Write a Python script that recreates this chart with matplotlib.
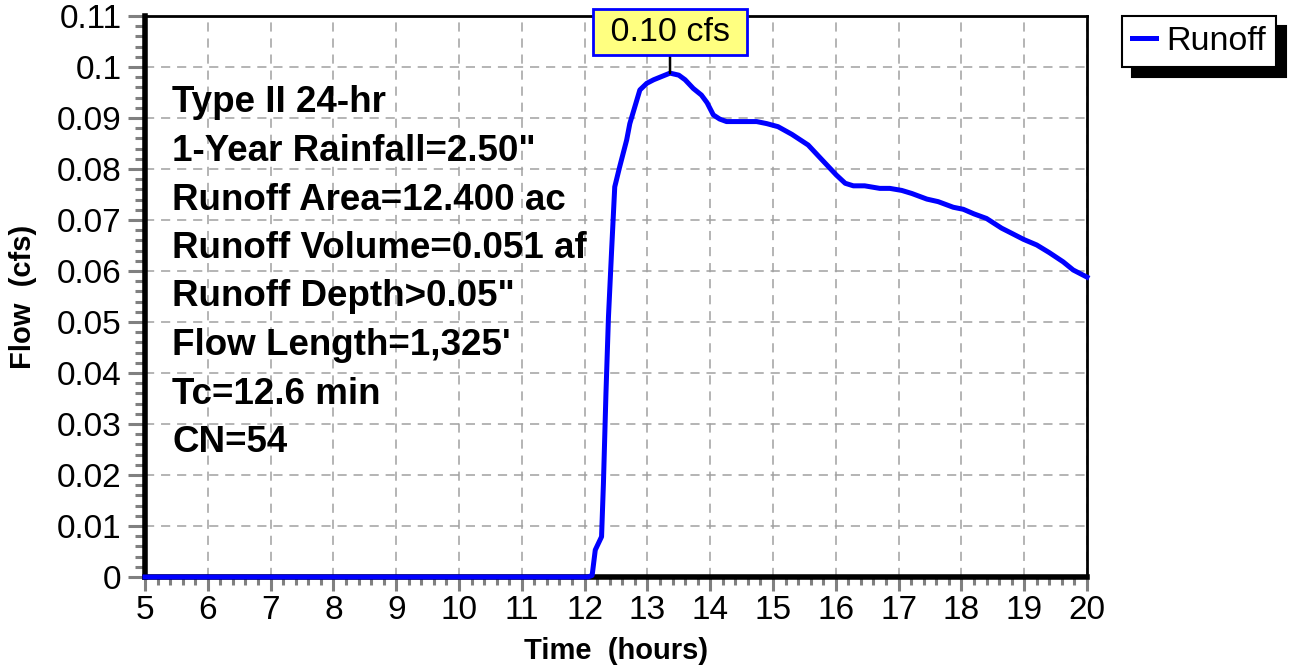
import matplotlib
matplotlib.use("Agg")
import matplotlib.pyplot as plt
from matplotlib.ticker import MultipleLocator

# ---- data ----
time_h = [5.0, 12.05, 12.12, 12.17, 12.27, 12.30, 12.34, 12.38, 12.43, 12.48, 12.56,
          12.67, 12.72, 12.88, 12.99, 13.10, 13.20, 13.36, 13.50, 13.60, 13.73, 13.86,
          13.95, 14.05, 14.15, 14.26, 14.50, 14.74, 14.90, 15.08, 15.30, 15.56, 15.75,
          16.01, 16.15, 16.28, 16.46, 16.70, 16.86, 17.05, 17.21, 17.45, 17.63, 17.87,
          18.03, 18.20, 18.40, 18.64, 18.80, 18.99, 19.20, 19.40, 19.62, 19.78, 20.0]
flow_cfs = [0.0, 0.0, 0.0003, 0.0053, 0.0079, 0.0184, 0.036, 0.051, 0.064, 0.0765, 0.0805,
            0.0857, 0.0889, 0.0955, 0.0968, 0.0975, 0.0980, 0.0988, 0.0984, 0.0975, 0.0958, 0.0945,
            0.0930, 0.0906, 0.0898, 0.0893, 0.0893, 0.0893, 0.0889, 0.0883, 0.0868, 0.0847, 0.0822,
            0.0788, 0.0772, 0.0767, 0.0767, 0.0762, 0.0762, 0.0758, 0.0752, 0.0741, 0.0736, 0.0725,
            0.0721, 0.0712, 0.0703, 0.0684, 0.0674, 0.0662, 0.0651, 0.0636, 0.0618, 0.0602, 0.0588]
peak_time = 13.36
peak_flow = 0.0988
peak_label = "0.10 cfs"
info_lines = ["Type II 24-hr", "1-Year Rainfall=2.50\"", "Runoff Area=12.400 ac",
              "Runoff Volume=0.051 af", "Runoff Depth>0.05\"", "Flow Length=1,325'",
              "Tc=12.6 min", "CN=54"]
x_ticks = list(range(5, 21))
y_ticks = [0, 0.01, 0.02, 0.03, 0.04, 0.05, 0.06, 0.07, 0.08, 0.09, 0.1, 0.11]
y_tick_labels = ["0", "0.01", "0.02", "0.03", "0.04", "0.05", "0.06", "0.07", "0.08",
                 "0.09", "0.1", "0.11"]
series_name = "Runoff"

plt.rcParams['font.family'] = ['Liberation Sans', 'DejaVu Sans']

W, H = 1291, 668
fig = plt.figure(figsize=(W / 100, H / 100), dpi=100)
L, R, T, B = 145, 1087, 16, 577
ax = fig.add_axes([L / W, 1 - B / H, (R - L) / W, (B - T) / H])

ax.plot(time_h, flow_cfs, color="#0000ff", lw=3.6, solid_joinstyle="round",
        label=series_name, zorder=5, clip_on=False)

ax.set_xlim(5, 20)
ax.set_ylim(0, 0.11)
ax.set_xticks(x_ticks)
ax.set_xticklabels([str(v) for v in x_ticks])
ax.set_yticks(y_ticks)
ax.set_yticklabels(y_tick_labels)
ax.xaxis.set_minor_locator(MultipleLocator(0.2))
ax.yaxis.set_minor_locator(MultipleLocator(0.002))

ax.grid(True, which="major", color="#a0a0a0", linestyle=(0, (6, 4.5)), lw=1.1)
ax.set_axisbelow(True)

ax.tick_params(axis="both", which="major", direction="out", width=2.2,
               color="#808080", labelsize=24)
ax.tick_params(axis="y", which="major", length=12, pad=5)
ax.tick_params(axis="x", which="major", length=10, pad=3)
ax.tick_params(axis="y", which="minor", direction="out", length=7, width=2.2,
               color="#808080")
ax.tick_params(axis="x", which="minor", direction="out", length=6, width=2.2,
               color="#808080")

for s in ["left", "bottom"]:
    ax.spines[s].set_linewidth(4)
for s in ["top", "right"]:
    ax.spines[s].set_linewidth(2)
for s in ax.spines.values():
    s.set_color("black")

ax.set_xlabel("Time  (hours)", fontsize=21, fontweight="bold", labelpad=8)
ax.set_ylabel("Flow  (cfs)", fontsize=21, fontweight="bold", labelpad=14)

# info block
x0 = (172 - L) / (R - L)
for i, line in enumerate(info_lines):
    ypx = 103 + 48.5 * i
    ax.text(x0, (B - ypx) / (B - T), line, transform=ax.transAxes, fontsize=26.5,
            fontweight="bold", ha="left", va="center", zorder=6)

# peak annotation
ax.annotate(f" {peak_label} ", xy=(peak_time, peak_flow), xytext=(peak_time, 0.1068),
            fontsize=24.5, ha="center", va="center", annotation_clip=False,
            bbox=dict(boxstyle="square,pad=0.22", fc="#ffff80", ec="#0000ff", lw=2),
            arrowprops=dict(arrowstyle="-", color="black", lw=1.8, shrinkA=0, shrinkB=0),
            zorder=10)

leg = ax.legend(loc="upper left", bbox_to_anchor=(1122 / W, 1 - 16 / H),
                bbox_transform=fig.transFigure, fontsize=24.5, frameon=True,
                fancybox=False, borderaxespad=0, handlelength=0.7, handletextpad=0.3,
                borderpad=0.3,
                shadow={"ox": 7, "oy": -7, "color": "black", "alpha": 1})
leg.get_frame().set_edgecolor("black")
leg.get_frame().set_linewidth(1.5)

fig.savefig("out.png", dpi=100)
